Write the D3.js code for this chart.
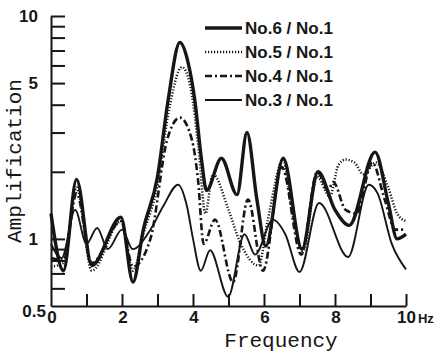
<!DOCTYPE html>
<html>
<head>
<meta charset="utf-8">
<script src="https://cdn.jsdelivr.net/npm/d3@7"></script>
<style>
  body { margin: 0; background: #fff; }
  svg { display: block; }
</style>
</head>
<body>
<figure id="chart" style="margin:0"></figure>
<script>
// frequency (Hz) / amplification, one pair of arrays per ratio
const freq6 = [0, 0.35, 0.72, 1.15, 1.97, 2.31, 2.6, 3.0, 3.3, 3.63, 3.86, 4.05, 4.25, 4.38, 4.8, 5.24, 5.52, 5.8, 6.05, 6.54, 7.07, 7.52, 8.0, 8.4, 9.13, 9.5, 9.75, 10];
const amp6 = [1.3, 0.72, 1.85, 0.76, 1.25, 0.64, 1.1, 1.9, 4.2, 7.6, 6.2, 4.2, 2.2, 1.65, 2.3, 1.58, 3.0, 1.5, 0.93, 2.3, 0.9, 2.0, 1.35, 1.15, 2.45, 1.45, 1.0, 1.05];

const freq5 = [0, 0.35, 0.72, 1.15, 1.97, 2.31, 2.6, 3.0, 3.3, 3.69, 3.95, 4.15, 4.35, 4.56, 5.0, 5.32, 5.85, 6.1, 6.54, 6.8, 7.1, 7.5, 7.85, 8.1, 8.3, 8.55, 8.8, 9.15, 9.5, 9.75, 10];
const amp5 = [0.75, 0.78, 1.7, 0.72, 1.2, 0.72, 1.05, 1.75, 3.6, 5.9, 4.6, 2.6, 1.3, 1.95, 1.35, 0.97, 0.76, 1.2, 2.25, 1.3, 0.88, 1.9, 1.55, 2.15, 2.27, 2.2, 1.95, 2.2, 1.7, 1.3, 1.2];

const freq4 = [0, 0.35, 0.72, 1.15, 1.97, 2.31, 2.8, 3.27, 3.63, 3.97, 4.14, 4.3, 4.62, 5.13, 5.55, 5.97, 6.5, 7.05, 7.5, 7.8, 7.95, 8.3, 8.6, 9.05, 9.4, 9.7, 10];
const amp4 = [0.82, 0.8, 1.6, 0.78, 1.2, 0.75, 1.0, 2.78, 3.5, 2.78, 1.85, 0.95, 1.22, 0.64, 1.5, 0.72, 2.1, 0.85, 2.0, 1.65, 1.8, 1.35, 1.3, 2.2, 1.5, 1.1, 1.1];

const freq3 = [0, 0.3, 0.68, 1.0, 1.3, 1.6, 2.0, 2.3, 2.8, 3.16, 3.58, 3.83, 4.0, 4.22, 4.48, 4.99, 5.45, 5.75, 6.25, 6.6, 7.0, 7.55, 8.37, 8.95, 9.2, 9.6, 10];
const amp3 = [0.95, 0.82, 1.35, 0.95, 1.12, 0.9, 1.1, 0.9, 1.1, 1.4, 1.75, 1.4, 1.0, 0.72, 0.89, 0.55, 1.05, 0.85, 1.22, 1.05, 0.71, 1.45, 0.83, 1.75, 1.6, 0.95, 0.73];

const seriesNames = ["No.6 / No.1", "No.5 / No.1", "No.4 / No.1", "No.3 / No.1"];
const xTickVals = [1, 2, 3, 4, 5, 6, 7, 8, 9, 10];
const xLabelVals = [0, 2, 4, 6, 8, 10];
const yTickVals = [0.6, 0.7, 0.8, 0.9, 1, 2, 3, 4, 5, 6, 7, 8, 9, 10];
const yLabelVals = [10, 5, 1, 0.5];

const width = 444, height = 353;
const ink = "#161616";

const svg = d3.select("figure#chart")
  .append("svg")
  .attr("width", width)
  .attr("height", height);

const x = d3.scaleLinear().domain([0, 10]).range([51, 406]);
const y = d3.scaleLog().domain([0.5, 10]).range([306, 16]);

// axes, ticks pointing inward like the original
svg.append("g")
  .attr("transform", "translate(0," + y(0.5) + ")")
  .call(d3.axisBottom(x).tickValues(xTickVals).tickSize(-12).tickSizeOuter(0).tickFormat(""))
  .call(g => g.selectAll("path, line").attr("stroke", ink).attr("stroke-width", 2));

svg.append("g")
  .attr("transform", "translate(" + x(0) + ",0)")
  .call(d3.axisLeft(y).tickValues(yTickVals).tickSize(-14).tickSizeOuter(0).tickFormat(""))
  .call(g => g.selectAll("path, line").attr("stroke", ink).attr("stroke-width", 2));

const labelFont = "'Liberation Sans', Arial, sans-serif";

svg.selectAll(".ylab")
  .data(yLabelVals)
  .enter().append("text")
  .attr("class", "ylab")
  .attr("x", d => d === 0.5 ? 46 : 38)
  .attr("y", d => y(d) + (d === 0.5 ? 11 : 6))
  .attr("text-anchor", "end")
  .style("font-family", labelFont)
  .style("font-weight", "bold")
  .style("font-size", "17px")
  .style("fill", ink)
  .text(d => d);

const xl = svg.selectAll(".xlab")
  .data(xLabelVals)
  .enter().append("text")
  .attr("class", "xlab")
  .attr("x", d => d === 10 ? x(d) - 9 : x(d) + 1)
  .attr("y", 323)
  .attr("text-anchor", d => d === 10 ? "start" : "middle")
  .style("font-family", labelFont)
  .style("font-weight", "bold")
  .style("font-size", "17px")
  .style("fill", ink)
  .text(d => d);
xl.filter(d => d === 10).append("tspan")
  .attr("dx", 2)
  .style("font-size", "13px")
  .text("Hz");

const titleFont = "'Liberation Mono', 'Courier New', monospace";

svg.append("text")
  .attr("transform", "translate(21,161) rotate(-90)")
  .attr("text-anchor", "middle")
  .style("font-family", titleFont)
  .style("font-size", "21px")
  .style("fill", ink)
  .text("Amplification");

svg.append("text")
  .attr("x", 281)
  .attr("y", 347)
  .attr("text-anchor", "middle")
  .style("font-family", titleFont)
  .style("font-size", "21px")
  .style("fill", ink)
  .text("Frequency");

// curves
const styles = [
  { w: 3.4, dash: null },
  { w: 2.5, dash: "1.2,1.8" },
  { w: 2.6, dash: "7,3,2,3" },
  { w: 1.9, dash: null }
];

const series = [
  d3.zip(freq6, amp6),
  d3.zip(freq5, amp5),
  d3.zip(freq4, amp4),
  d3.zip(freq3, amp3)
];

const line = d3.line()
  .x(d => x(d[0]))
  .y(d => y(d[1]))
  .curve(d3.curveMonotoneX);

svg.selectAll(".curve")
  .data(series)
  .enter().append("path")
  .attr("class", "curve")
  .attr("d", line)
  .style("fill", "none")
  .style("stroke", ink)
  .style("stroke-width", (d, i) => styles[i].w)
  .style("stroke-dasharray", (d, i) => styles[i].dash)
  .style("stroke-linejoin", "round");

// legend
const legend = svg.append("g");
const rowY = d3.scalePoint().domain(seriesNames).range([28, 100]);

legend.selectAll("line")
  .data(seriesNames)
  .enter().append("line")
  .attr("x1", 205).attr("x2", 242)
  .attr("y1", d => rowY(d)).attr("y2", d => rowY(d))
  .style("stroke", ink)
  .style("stroke-width", (d, i) => styles[i].w)
  .style("stroke-dasharray", (d, i) => styles[i].dash);

legend.selectAll("text")
  .data(seriesNames)
  .enter().append("text")
  .attr("x", 245)
  .attr("y", d => rowY(d) + 6)
  .style("font-family", labelFont)
  .style("font-weight", "bold")
  .style("font-size", "17px")
  .style("fill", ink)
  .text(d => d);
</script>
</body>
</html>
